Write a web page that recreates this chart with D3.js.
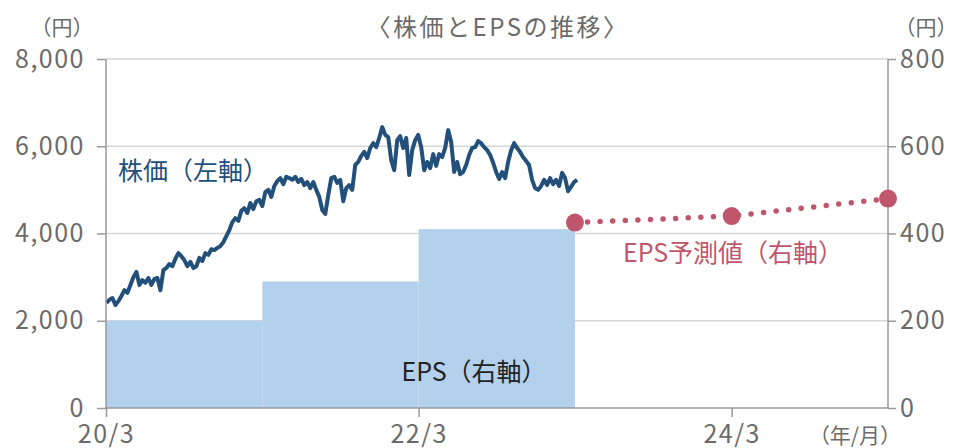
<!DOCTYPE html>
<html lang="ja">
<head>
<meta charset="utf-8">
<title>株価とEPSの推移</title>
<script src="https://cdn.jsdelivr.net/npm/d3@7"></script>
<style>
  body { margin: 0; background: #fff; }
  svg text { font-family: "Noto Sans CJK JP", "Noto Sans", sans-serif; }
  .axis path, .axis line { stroke: #9a9a9a; stroke-width: 1.5px; }
  .axis text { fill: #6b6b6b; font-size: 25px; letter-spacing: 1.5px; }
  .grid line { stroke: #d6d6d6; stroke-width: 1.5px; }
</style>
</head>
<body>
<div id="chart"></div>
<script>
  // weekly closes (円), first week starting 2020-03-02
  var priceStart = "2020-03-02";
  var priceWeekly = [
    2410, 2480, 2520, 2360, 2450, 2570, 2700, 2640, 2820, 3000,
    3120, 2820, 2930, 2870, 2980, 2820, 2960, 2980, 2700, 3160,
    3210, 3300, 3250, 3420, 3550, 3480, 3390, 3250, 3350, 3210,
    3250, 3440, 3370, 3550, 3510, 3640, 3620, 3670, 3710, 3800,
    3940, 4080, 4260, 4350, 4290, 4520, 4580, 4470, 4700, 4560,
    4740, 4770, 4630, 4950, 5000, 4840, 5090, 5200, 5270, 5130,
    5300, 5270, 5230, 5300, 5180, 5250, 5110, 5180, 5040, 5180,
    5000, 4840, 4540, 4450, 4880, 5270, 5300, 5160, 5230, 4740,
    5040, 5110, 5000, 5570, 5640, 5780, 5870, 5730, 5960, 6070,
    5980, 6190, 6440, 6260, 6210, 5680, 5450, 6140, 6230, 5960,
    6190, 5340, 5910, 6140, 6260, 5980, 5450, 5640, 5500, 5820,
    5550, 5820, 5750, 5960, 6370, 6100, 5410, 5640, 5360, 5410,
    5570, 5800, 5960, 5980, 6120, 6070, 5980, 5910, 5800, 5620,
    5410, 5250, 5410, 5270, 5640, 5910, 6070, 5960, 5870, 5750,
    5660, 5570, 5230, 5040, 5000, 5090, 5230, 5110, 5270, 5130,
    5230, 5090, 5390, 5270, 4970, 5070, 5180, 5230
  ];

  // EPS (円) by fiscal year
  var epsFrom = ["2020-03-01", "2021-03-01", "2022-03-01"];
  var epsTo = ["2021-03-01", "2022-03-01", "2023-03-01"];
  var epsValues = [200, 290, 410];

  // EPS forecast (円)
  var forecastDates = ["2023-03-01", "2024-03-01", "2025-03-01"];
  var forecastValues = [425, 440, 480];

  var leftTicks = [0, 2000, 4000, 6000, 8000];
  var rightTicks = [0, 200, 400, 600, 800];
  var xTicks = ["2020-03-01", "2022-03-01", "2024-03-01"];

  var width = 960, height = 448;
  var mLeft = 106, mRight = 888, mTop = 59, mBottom = 408;
  var parse = d3.timeParse("%Y-%m-%d");

  var svg = d3.select("#chart").append("svg")
    .attr("width", width)
    .attr("height", height);

  var x = d3.scaleTime()
    .domain([parse("2020-03-01"), parse("2025-03-01")])
    .range([mLeft, mRight]);
  var yL = d3.scaleLinear().domain([0, 8000]).range([mBottom, mTop]);
  var yR = d3.scaleLinear().domain([0, 800]).range([mBottom, mTop]);

  // grid
  svg.append("g").attr("class", "grid")
    .selectAll("line")
    .data(leftTicks.filter(function(d) { return d > 0; }))
    .enter().append("line")
      .attr("x1", mLeft).attr("x2", mRight)
      .attr("y1", function(d) { return yL(d); })
      .attr("y2", function(d) { return yL(d); });

  // EPS bars
  svg.append("g").selectAll("rect")
    .data(epsValues)
    .enter().append("rect")
      .attr("x", function(d, i) { return x(parse(epsFrom[i])); })
      .attr("width", function(d, i) { return x(parse(epsTo[i])) - x(parse(epsFrom[i])); })
      .attr("y", function(d) { return yR(d); })
      .attr("height", function(d) { return mBottom - yR(d); })
      .attr("fill", "#b3d0ec");

  // stock price
  var start = parse(priceStart);
  var line = d3.line()
    .x(function(d, i) { return x(d3.timeWeek.offset(start, i)); })
    .y(function(d) { return yL(d); });

  svg.append("path")
    .datum(priceWeekly)
    .attr("d", line)
    .attr("fill", "none")
    .attr("stroke", "#22507a")
    .attr("stroke-width", 4)
    .attr("stroke-linejoin", "round");

  // axes
  svg.append("g").attr("class", "axis")
    .attr("transform", "translate(" + mLeft + ",0)")
    .call(d3.axisLeft(yL).tickValues(leftTicks).tickSize(9).tickPadding(12)
      .tickFormat(d3.format(",")))
    .call(function(g) { g.select(".domain").attr("d", "M0," + mTop + "V" + mBottom); });

  svg.append("g").attr("class", "axis")
    .attr("transform", "translate(" + mRight + ",0)")
    .call(d3.axisRight(yR).tickValues(rightTicks).tickSize(8).tickPadding(4))
    .call(function(g) { g.select(".domain").attr("d", "M0," + mTop + "V" + mBottom); });

  svg.append("g").attr("class", "axis")
    .attr("transform", "translate(0," + mBottom + ")")
    .call(d3.axisBottom(x).tickValues(xTicks.map(parse)).tickSize(9).tickPadding(8)
      .tickFormat(d3.timeFormat("%y/%-m")))
    .call(function(g) { g.select(".domain").attr("d", "M" + mLeft + ",0H" + mRight); });

  // forecast
  var fc = forecastValues.map(function(v, i) { return [parse(forecastDates[i]), v]; });
  svg.append("path")
    .datum(fc)
    .attr("d", d3.line().x(function(d) { return x(d[0]); }).y(function(d) { return yR(d[1]); }))
    .attr("fill", "none")
    .attr("stroke", "#c0566b")
    .attr("stroke-width", 5.5)
    .attr("stroke-linecap", "round")
    .attr("stroke-dasharray", "0 12.6");

  svg.append("g").selectAll("circle")
    .data(fc)
    .enter().append("circle")
      .attr("cx", function(d) { return x(d[0]); })
      .attr("cy", function(d) { return yR(d[1]); })
      .attr("r", 9)
      .attr("fill", "#c0566b");

  // labels
  svg.append("text")
    .attr("x", (mLeft + mRight) / 2 + 1).attr("y", 36)
    .attr("text-anchor", "middle")
    .attr("fill", "#6b6b6b").style("font-size", "24px").style("letter-spacing", "2.5px")
    .text("〈株価とEPSの推移〉");

  svg.append("text").attr("x", 62).attr("y", 35).attr("text-anchor", "middle")
    .attr("fill", "#6b6b6b").style("font-size", "21px").text("（円）");
  svg.append("text").attr("x", 926).attr("y", 35).attr("text-anchor", "middle")
    .attr("fill", "#6b6b6b").style("font-size", "21px").text("（円）");
  svg.append("text").attr("x", 855).attr("y", 443).attr("text-anchor", "middle")
    .attr("fill", "#6b6b6b").style("font-size", "21px").text("（年/月）");

  svg.append("text").attr("x", 118).attr("y", 180)
    .attr("fill", "#22507a").style("font-size", "25px").text("株価（左軸）");
  svg.append("text").attr("x", 733).attr("y", 262).attr("text-anchor", "middle")
    .attr("fill", "#c0566b").style("font-size", "25px").text("EPS予測値（右軸）");
  svg.append("text").attr("x", 474).attr("y", 381).attr("text-anchor", "middle")
    .attr("fill", "#222").style("font-size", "25px").text("EPS（右軸）");
</script>
</body>
</html>
